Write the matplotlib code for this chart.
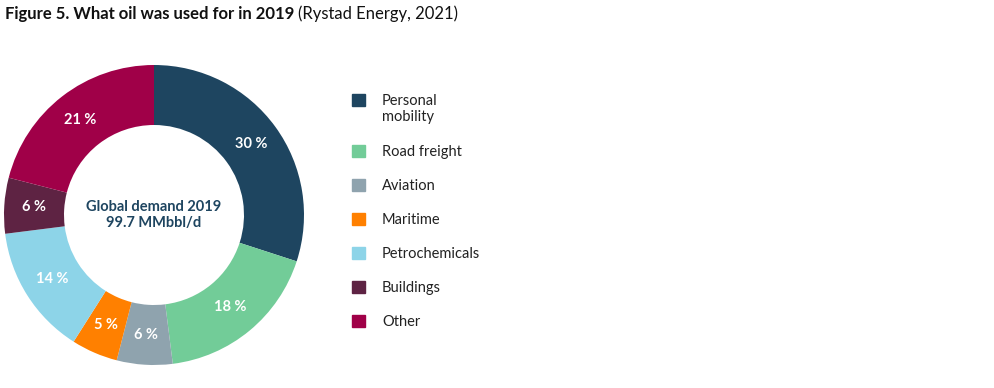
import matplotlib.pyplot as plt
import numpy as np
from matplotlib.patches import Rectangle

plt.rcParams['font.family'] = ['Lato', 'DejaVu Sans']

categorias = ['Personal\nmobility', 'Road freight', 'Aviation', 'Maritime',
              'Petrochemicals', 'Buildings', 'Other']
valores = [30, 18, 6, 5, 14, 6, 21]
cores = ['#1e4560', '#72cc98', '#8fa3ae', '#ff8000', '#8dd4e8', '#5e2343', '#a00048']

W, H = 994, 388
fig = plt.figure(figsize=(W / 100, H / 100), dpi=100)

# donut
ax = fig.add_axes([4 / W, 23 / H, 300 / W, 300 / H])
wedges, textos = ax.pie(valores, colors=cores, startangle=90, counterclock=False,
                        wedgeprops=dict(width=0.4, edgecolor='none'))
for w, v in zip(wedges, valores):
    ang = np.deg2rad((w.theta1 + w.theta2) / 2)
    ax.text(0.8 * np.cos(ang), 0.8 * np.sin(ang), f'{v} %', ha='center', va='center',
            color='white', fontsize=10.5, fontweight='bold')
ax.text(0, 0, 'Global demand 2019\n99.7 MMbbl/d', ha='center', va='center',
        color='#1e4560', fontsize=10.5, fontweight='bold', linespacing=1.25)
ax.set_xlim(-1, 1)
ax.set_ylim(-1, 1)
ax.set_aspect('equal')

# legenda
y0 = 100
passo = 34
for i, (cat, cor) in enumerate(zip(categorias, cores)):
    y = y0 + i * passo + (17 if i > 0 else 0)
    fig.patches.append(Rectangle((352 / W, 1 - (y + 6) / H), 13 / W, 12 / H,
                                 transform=fig.transFigure, color=cor))
    fig.text(382 / W, 1 - (y - 6) / H, cat, ha='left', va='top', fontsize=10.5,
             color='#222222', linespacing=1.2)

# titulo
t = fig.text(5 / W, 1 - 14 / H, 'Figure 5. What oil was used for in 2019', ha='left',
             va='center', fontsize=12, fontweight='bold', color='#111111')
fig.canvas.draw()
bb = t.get_window_extent()
fig.text(bb.x1 / W + 4 / W, 1 - 14 / H, '(Rystad Energy, 2021)', ha='left', va='center',
         fontsize=12, color='#111111')

fig.savefig('out.png', dpi=100)
